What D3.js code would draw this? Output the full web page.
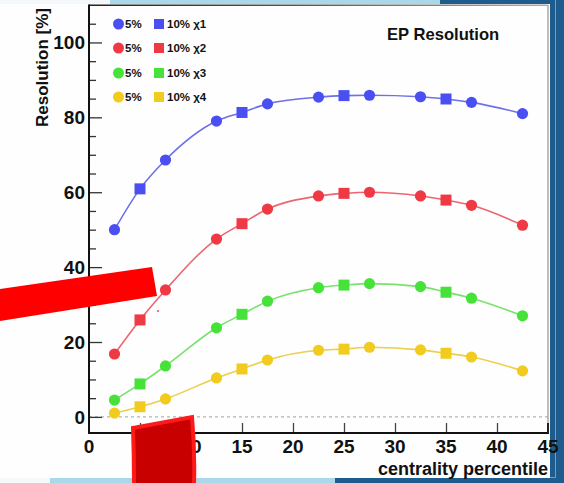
<!DOCTYPE html>
<html>
<head>
<meta charset="utf-8">
<script src="https://cdn.jsdelivr.net/npm/d3@7"></script>
<style>
  html, body { margin: 0; padding: 0; background: #ffffff; }
  svg { display: block; }
  text { font-family: "Liberation Sans", Arial, Helvetica, sans-serif; font-weight: bold; fill: #111; }
</style>
</head>
<body>
<div id="chart"></div>
<script>
// Centrality bins (percentile) for the 5% and 10% binnings
const cent5 = [2.5, 7.5, 12.5, 17.5, 22.5, 27.5, 32.5, 37.5, 42.5];
const cent10 = [5, 15, 25, 35];

// Event-plane resolution [%] per harmonic, 5% bins
const res5_1 = [50.0, 68.6, 79.0, 83.6, 85.4, 85.9, 85.5, 84.0, 81.0];
const res5_2 = [16.8, 33.9, 47.5, 55.5, 59.0, 60.0, 59.0, 56.5, 51.2];
const res5_3 = [4.5, 13.6, 23.8, 30.9, 34.5, 35.6, 34.8, 31.7, 27.0];
const res5_4 = [1.0, 4.8, 10.4, 15.2, 17.8, 18.6, 17.9, 16.0, 12.3];

// Same, 10% bins
const res10_1 = [60.9, 81.3, 85.8, 84.9];
const res10_2 = [25.9, 51.6, 59.7, 57.9];
const res10_3 = [8.8, 27.4, 35.2, 33.3];
const res10_4 = [2.7, 12.8, 18.1, 17.0];

const seriesNames = ["\u03c71", "\u03c72", "\u03c73", "\u03c74"];
const seriesColors = ["#4a4ff2", "#ef3944", "#46e23a", "#f1cb1d"];
const lineColors = ["#6d70e6", "#ec6670", "#78e26c", "#eccf4a"];

const xTicks = [0, 5, 10, 15, 20, 25, 30, 35, 40, 45];
const yTicks = [0, 20, 40, 60, 80, 100];

const W = 564, H = 483;
const svg = d3.select("#chart").append("svg").attr("width", W).attr("height", H);

// slide background around the figure
svg.append("rect").attr("x", 0).attr("y", 0).attr("width", W).attr("height", H).attr("fill", "#1e5c8d");
svg.append("rect").attr("x", 110).attr("y", 0).attr("width", 330).attr("height", 4).attr("fill", "#a8d8ea");
svg.append("rect").attr("x", 0).attr("y", 0).attr("width", 110).attr("height", 4).attr("fill", "#f4f8fa");
svg.append("rect").attr("x", 50).attr("y", 478).attr("width", 285).attr("height", 5).attr("fill", "#a8d8ea");
svg.append("rect").attr("x", 0).attr("y", 478).attr("width", 50).attr("height", 5).attr("fill", "#f6f9fb");
svg.append("line").attr("x1", 555.5).attr("x2", 555.5).attr("y1", 0).attr("y2", 478).attr("stroke", "#5aa6cf").attr("stroke-width", 1);
svg.append("line").attr("x1", 335).attr("x2", 556).attr("y1", 477.5).attr("y2", 477.5).attr("stroke", "#5aa6cf").attr("stroke-width", 1);

// white canvas
svg.append("rect").attr("x", 0).attr("y", 4).attr("width", 550).attr("height", 474).attr("fill", "#fefefe");

const x = d3.scaleLinear().domain([0, 45]).range([89, 548]);
const y = d3.scaleLinear().domain([-4.3, 110]).range([433, 5]);

// frame: light top/right edges
const grad = svg.append("defs").append("linearGradient").attr("id", "topEdge").attr("x1", "0%").attr("x2", "100%");
grad.append("stop").attr("offset", "0%").attr("stop-color", "#222");
grad.append("stop").attr("offset", "45%").attr("stop-color", "#555");
grad.append("stop").attr("offset", "100%").attr("stop-color", "#aaa");
svg.append("rect").attr("x", x(0)).attr("y", y(110) - 0.5).attr("width", x(45) - x(0)).attr("height", 1.5).attr("fill", "url(#topEdge)");
svg.append("line").attr("x1", x(45)).attr("x2", x(45)).attr("y1", y(110)).attr("y2", y(-4.3))
  .attr("stroke", "#a9a9a9").attr("stroke-width", 1.5);

// dashed zero line
svg.append("line").attr("x1", x(0)).attr("x2", x(45)).attr("y1", y(0)).attr("y2", y(0))
  .attr("stroke", "#a0a0a0").attr("stroke-width", 1).attr("stroke-dasharray", "3,3");

// y axis with major and minor ticks pointing inward
const yMinor = d3.range(-0, 110, 5).filter(v => v % 20 !== 0);
const yAxisMajor = d3.axisRight(y).tickValues(yTicks).tickSize(13).tickFormat("");
const yAxisMinor = d3.axisRight(y).tickValues(yMinor).tickSize(7).tickFormat("");
const gyMin = svg.append("g").attr("transform", `translate(${x(0)},0)`).call(yAxisMinor);
const gy = svg.append("g").attr("transform", `translate(${x(0)},0)`).call(yAxisMajor);
[gy, gyMin].forEach(g => {
  g.select(".domain").remove();
  g.selectAll(".tick line").attr("stroke", "#333").attr("stroke-width", 1.3);
});
svg.append("g").selectAll("text").data(yTicks).join("text")
  .attr("x", 85).attr("y", d => y(d) + 7).attr("text-anchor", "end")
  .attr("font-size", 19).text(d => d);

// x axis ticks pointing up
const xAxis = d3.axisTop(x).tickValues(xTicks.slice(1, -1)).tickSize(10).tickFormat("");
const gx = svg.append("g").attr("transform", `translate(0,${y(-4.3)})`).call(xAxis);
gx.select(".domain").remove();
gx.selectAll(".tick line").attr("stroke", "#444").attr("stroke-width", 1.3);
svg.append("g").selectAll("text").data(xTicks).join("text")
  .attr("x", d => x(d)).attr("y", 453).attr("text-anchor", "middle")
  .attr("font-size", 19).text(d => d);

// axis lines (left and bottom)
svg.append("line").attr("x1", x(0)).attr("x2", x(0)).attr("y1", y(110) - 0.5).attr("y2", y(-4.3) + 1)
  .attr("stroke", "#111").attr("stroke-width", 2);
svg.append("line").attr("x1", x(0) - 1).attr("x2", x(45) + 1).attr("y1", y(-4.3)).attr("y2", y(-4.3))
  .attr("stroke", "#111").attr("stroke-width", 2);
svg.append("line").attr("x1", x(45)).attr("x2", x(45)).attr("y1", y(-4.3) - 10).attr("y2", y(-4.3))
  .attr("stroke", "#222").attr("stroke-width", 2);

// axis titles
svg.append("text").attr("transform", `translate(48,8) rotate(-90)`).attr("text-anchor", "end")
  .attr("font-size", 17).text("Resolution [%]");
svg.append("text").attr("x", 548).attr("y", 475).attr("text-anchor", "end")
  .attr("font-size", 18).text("centrality percentile");
svg.append("text").attr("x", 387).attr("y", 40).attr("font-size", 16.6).text("EP Resolution");

// curves and markers
const res5 = [res5_1, res5_2, res5_3, res5_4];
const res10 = [res10_1, res10_2, res10_3, res10_4];
const line = d3.line().x(d => x(d[0])).y(d => y(d[1])).curve(d3.curveMonotoneX);

res5.forEach((vals, i) => {
  const pts5 = cent5.map((c, j) => [c, vals[j]]);
  const pts10 = cent10.map((c, j) => [c, res10[i][j]]);
  const all = pts5.concat(pts10).sort((a, b) => a[0] - b[0]);
  svg.append("path").attr("d", line(all)).attr("fill", "none")
    .attr("stroke", lineColors[i]).attr("stroke-width", 1.6);
  svg.append("g").selectAll("circle").data(pts5).join("circle")
    .attr("cx", d => x(d[0])).attr("cy", d => y(d[1])).attr("r", 5.6)
    .attr("fill", seriesColors[i]);
  svg.append("g").selectAll("rect").data(pts10).join("rect")
    .attr("x", d => x(d[0]) - 5.5).attr("y", d => y(d[1]) - 5.5)
    .attr("width", 11).attr("height", 11).attr("fill", seriesColors[i]);
});

// legend
const legendRows = [24, 48, 73, 97];
const lg = svg.append("g");
seriesNames.forEach((name, i) => {
  const cy = legendRows[i];
  lg.append("circle").attr("cx", 118.5).attr("cy", cy).attr("r", 5.5).attr("fill", seriesColors[i]);
  lg.append("text").attr("x", 125).attr("y", cy + 4.2).attr("font-size", 11.5).text("5%");
  lg.append("rect").attr("x", 154).attr("y", cy - 5).attr("width", 10).attr("height", 10).attr("fill", seriesColors[i]);
  lg.append("text").attr("x", 167).attr("y", cy + 4.2).attr("font-size", 11.5).text("10% " + name);
});

// overlay marks
svg.append("polygon").attr("points", "0,289 152,267 157,296 0,321").attr("fill", "#ff0000");
svg.append("rect").attr("x", 157).attr("y", 310).attr("width", 2).attr("height", 2).attr("fill", "#f77");
svg.append("path").attr("d", "M133,428 L192,417 Q195,450 194,485 L134,485 Q134,455 133,428 Z")
  .attr("fill", "#c80000").attr("stroke", "#ff1a1a").attr("stroke-width", 4);
</script>
</body>
</html>
